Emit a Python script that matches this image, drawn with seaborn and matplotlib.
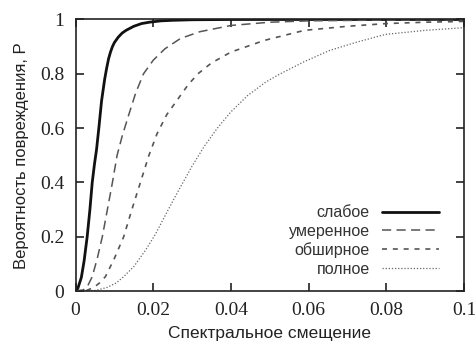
import numpy as np
import pandas as pd
import seaborn as sns
import matplotlib
matplotlib.use("Agg")
import matplotlib.pyplot as plt
from matplotlib.ticker import FixedLocator, FixedFormatter

# ---- data ----
labels = ["слабое", "умеренное", "обширное", "полное"]

x_slight = [0.0, 0.0006, 0.0015, 0.0022, 0.0030, 0.0037, 0.0043, 0.0049, 0.0054, 0.0060,
            0.0067, 0.0075, 0.0080, 0.0085, 0.0090, 0.0095, 0.0100, 0.0110, 0.0120, 0.0130,
            0.0150, 0.0170, 0.0190, 0.0220, 0.0250, 0.0300,
            0.0400, 0.0600, 0.0800, 0.1000]
y_slight = [0.0, 0.01, 0.05, 0.11, 0.20, 0.30, 0.40, 0.47, 0.52, 0.60,
            0.70, 0.78, 0.82, 0.855, 0.88, 0.90, 0.915, 0.935, 0.95, 0.96,
            0.975, 0.985, 0.99, 0.995, 0.997, 0.999,
            1.0, 1.0, 1.0, 1.0]

x_moderate = [0.0, 0.0020, 0.0030, 0.0043, 0.0056, 0.0069, 0.0082, 0.0095, 0.0107, 0.0120,
              0.0135, 0.0155, 0.0175, 0.0200, 0.0230, 0.0270, 0.0320, 0.0400, 0.0500,
              0.0600, 0.0800, 0.1000]
y_moderate = [0.0, 0.004, 0.015, 0.053, 0.12, 0.20, 0.30, 0.40, 0.50, 0.57,
              0.64, 0.73, 0.80, 0.85, 0.892, 0.93, 0.955, 0.978, 0.99,
              0.995, 0.998, 0.999]

x_extensive = [0.0, 0.0030, 0.0047, 0.0062, 0.0077, 0.0100, 0.0124, 0.0145, 0.0167, 0.0189,
               0.0210, 0.0235, 0.0260, 0.0290, 0.0315, 0.0350, 0.0400, 0.0486, 0.0589,
               0.0700, 0.0800, 0.0900, 0.1000]
y_extensive = [0.0, 0.003, 0.013, 0.03, 0.053, 0.12, 0.20, 0.30, 0.40, 0.50,
               0.58, 0.65, 0.70, 0.76, 0.80, 0.84, 0.88, 0.923, 0.96,
               0.975, 0.985, 0.99, 0.993]

x_complete = [0.0, 0.0050, 0.0081, 0.0105, 0.0124, 0.0150, 0.0180, 0.0206, 0.0235, 0.0265,
              0.0300, 0.0330, 0.0365, 0.0400, 0.0443, 0.0490, 0.0527, 0.0589, 0.0654,
              0.0720, 0.0797, 0.0900, 0.1000]
y_complete = [0.0, 0.002, 0.013, 0.03, 0.053, 0.09, 0.15, 0.21, 0.29, 0.37,
              0.46, 0.53, 0.60, 0.66, 0.72, 0.77, 0.80, 0.845, 0.886,
              0.915, 0.945, 0.96, 0.97]

x_ticks = [0, 0.02, 0.04, 0.06, 0.08, 0.1]
x_tick_labels = ["0", "0.02", "0.04", "0.06", "0.08", "0.1"]
y_ticks = [0, 0.2, 0.4, 0.6, 0.8, 1.0]
y_tick_labels = ["0", "0.2", "0.4", "0.6", "0.8", "1"]

x_label = "Спектральное смещение"
y_label = "Вероятность повреждения, P"

# ---- plotting ----
sns.set_theme(style="ticks")
plt.rcParams["font.family"] = ["Liberation Sans", "DejaVu Sans"]

fig = plt.figure(figsize=(4.75, 3.45), dpi=100)
ax = fig.add_axes([0.159, 0.1565, 0.818, 0.787])

series = [
    (x_slight, y_slight, dict(color="#111111", lw=2.0, linestyle="-")),
    (x_moderate, y_moderate, dict(color="#555555", lw=1.1, linestyle=(0, (6, 3.5)))),
    (x_extensive, y_extensive, dict(color="#555555", lw=1.2, linestyle=(0, (3, 3.5)))),
    (x_complete, y_complete, dict(color="#666666", lw=0.9, linestyle=(0, (1, 1.5)))),
]
for (xs, ys, st), lab in zip(series, labels):
    df = pd.DataFrame({"x": xs, "y": ys})
    sns.lineplot(data=df, x="x", y="y", ax=ax, label=lab, sort=False,
                 estimator=None, **st)

ax.set_xlim(0, 0.1)
ax.set_ylim(0, 1)

ax.xaxis.set_major_locator(FixedLocator(x_ticks))
ax.xaxis.set_major_formatter(FixedFormatter(x_tick_labels))
ax.yaxis.set_major_locator(FixedLocator(y_ticks))
ax.yaxis.set_major_formatter(FixedFormatter(y_tick_labels))

ax.tick_params(direction="in", length=6, width=1.2, color="#222222",
               top=True, right=True, labelsize=14)
ax.tick_params(axis="x", pad=8)
ax.tick_params(axis="y", pad=8)
for t in ax.get_xticklabels() + ax.get_yticklabels():
    t.set_fontfamily("Liberation Serif")
    t.set_color("#222222")

for s in ax.spines.values():
    s.set_visible(True)
    s.set_linewidth(1.2)
    s.set_color("#222222")

ax.set_xlabel(x_label, fontsize=12.5, color="#222222", labelpad=5)
ax.set_ylabel(y_label, fontsize=12, color="#222222", labelpad=8)

leg = ax.legend(loc="lower right", bbox_to_anchor=(0.965, 0.012), frameon=False,
                markerfirst=False, fontsize=11.5, handlelength=3.6,
                handletextpad=0.75, labelspacing=0.22, borderpad=0.2)
for t in leg.get_texts():
    t.set_color("#333333")

ax.set_facecolor("white")
fig.patch.set_facecolor("white")
fig.savefig("out.png", dpi=100)
